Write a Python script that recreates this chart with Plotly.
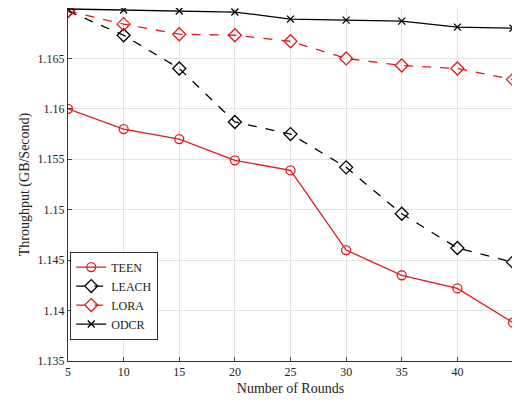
import plotly.graph_objects as go

rounds = [5, 10, 15, 20, 25, 30, 35, 40, 45]
teen = [1.1600, 1.1580, 1.1570, 1.1549, 1.1539, 1.1460, 1.1435, 1.1422, 1.1388]
leach = [1.1697, 1.1673, 1.1640, 1.1587, 1.1575, 1.1542, 1.1496, 1.1462, 1.1448]
lora = [1.1697, 1.1684, 1.1674, 1.1673, 1.1667, 1.1650, 1.1643, 1.1640, 1.1629]
odcr = [1.1699, 1.1698, 1.1697, 1.1696, 1.1689, 1.1688, 1.1687, 1.1681, 1.1680]

series = [
    ('TEEN', teen, '#e31a1c', 'solid', 'circle-open', 9),
    ('LEACH', leach, 'black', 'dash', 'diamond-open', 10),
    ('LORA', lora, '#e31a1c', 'dash', 'diamond-open', 10),
    ('ODCR', odcr, 'black', 'solid', 'x-thin-open', 7),
]

fig = go.Figure()
for name, vals, color, dash, sym, size in series:
    fig.add_trace(go.Scatter(
        x=rounds, y=vals, name=name, mode='lines+markers',
        line=dict(color=color, width=1.3, dash=dash),
        marker=dict(symbol=sym, size=size, color=color,
                    line=dict(color=color, width=1.3)),
    ))

axis = dict(showline=True, mirror=True, linecolor='#333', linewidth=1,
            showgrid=True, gridcolor='#e3e3e3', ticks='inside', ticklen=4,
            zeroline=False, tickfont=dict(size=12, color='#222'))

fig.update_layout(
    width=505, height=395,
    margin=dict(l=60, r=0, t=0, b=42),
    paper_bgcolor='white', plot_bgcolor='white',
    font=dict(family='Liberation Serif', size=12, color='#222'),
    xaxis=dict(axis, range=[5, 45], dtick=5,
               title=dict(text='Number of Rounds', standoff=4)),
    yaxis=dict(axis, range=[1.135, 1.17], dtick=0.005,
               title=dict(text='Throughput (GB/Second)', standoff=4)),
    legend=dict(x=0.005, y=0.31, xanchor='left', yanchor='top',
                bordercolor='#333', borderwidth=1, bgcolor='white',
                font=dict(size=12)),
)

fig.write_html("out.html")
